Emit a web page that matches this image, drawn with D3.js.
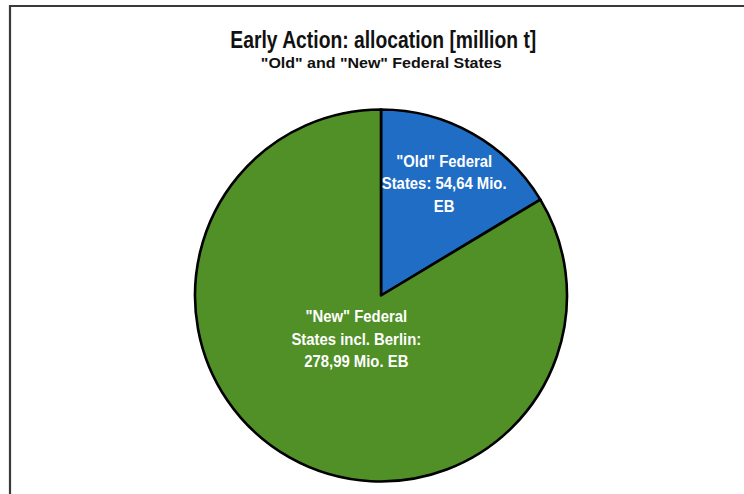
<!DOCTYPE html>
<html>
<head>
<meta charset="utf-8">
<script src="https://cdn.jsdelivr.net/npm/d3@7"></script>
<style>
  html, body { margin: 0; padding: 0; background: #fff; }
  svg { display: block; }
  .cond { font-family: "Liberation Sans", Arial, sans-serif; font-weight: bold; }
</style>
</head>
<body>
<svg id="chart" width="744" height="494"></svg>
<script>
// Early Action allocation, million t
const categories = ['"Old" Federal States', '"New" Federal States incl. Berlin'];
const values = [54.64, 278.99];
const labelLines = [
  ['"Old" Federal', 'States: 54,64 Mio.', 'EB'],
  ['"New" Federal', 'States incl. Berlin:', '278,99 Mio. EB']
];
const colors = ["#1f6dc4", "#518f27"];

const titleText = "Early Action: allocation [million t]";
const subtitleText = '"Old" and "New" Federal States';

const W = 744, H = 494;
const cx = 381, cy = 295.5, R = 186;
// radial position of each label, as a fraction of the radius
const labelRadius = [0.69, 0.27];

const svg = d3.select("#chart");

// frame
svg.append("path")
  .attr("d", `M10,${H} V6 H${W}`)
  .attr("fill", "none")
  .attr("stroke", "#3a3a3a")
  .attr("stroke-width", 2.2);

// condensed text: a bold sans squeezed horizontally to the given width
function condensedText(parent, x, y, str, size, width, fill) {
  const g = parent.append("g");
  const t = g.append("text")
    .attr("class", "cond")
    .attr("text-anchor", "middle")
    .attr("font-size", size)
    .attr("fill", fill)
    .text(str);
  const k = width / t.node().getComputedTextLength();
  g.attr("transform", `translate(${x},${y}) scale(${k},1)`);
  return k;
}

condensedText(svg, 383.3, 48, titleText, 23.5, 306, "#111");
condensedText(svg, 381.2, 67.5, subtitleText, 14, 241, "#111");

const pie = d3.pie().sort(null).value(d => d)
  .startAngle(0).endAngle(2 * Math.PI);
const arcs = pie(values);
const arc = d3.arc().innerRadius(0).outerRadius(R);

const g = svg.append("g").attr("transform", `translate(${cx},${cy})`);

g.selectAll("path.slice")
  .data(arcs)
  .join("path")
  .attr("class", "slice")
  .attr("d", arc)
  .attr("fill", (d, i) => colors[i])
  .attr("stroke", "#000")
  .attr("stroke-width", 2.6)
  .attr("stroke-linejoin", "round");

// label squeeze factor, taken from a reference line
const probe = svg.append("text").attr("class", "cond").attr("font-size", 16.5).text("States: 54,64 Mio.");
const labelK = 125 / probe.node().getComputedTextLength();
probe.remove();

const lineH = 22.5;
arcs.forEach((d, i) => {
  const mid = (d.startAngle + d.endAngle) / 2;
  const r = R * labelRadius[i];
  const x = Math.sin(mid) * r;
  const y = -Math.cos(mid) * r;
  const lines = labelLines[i];
  lines.forEach((ln, k) => {
    g.append("g")
      .attr("transform", `translate(${x},${y + (k - (lines.length - 1) / 2) * lineH + 5.5}) scale(${labelK},1)`)
      .append("text")
      .attr("class", "cond")
      .attr("text-anchor", "middle")
      .attr("font-size", 16.5)
      .attr("fill", "#fff")
      .text(ln);
  });
});
</script>
</body>
</html>
